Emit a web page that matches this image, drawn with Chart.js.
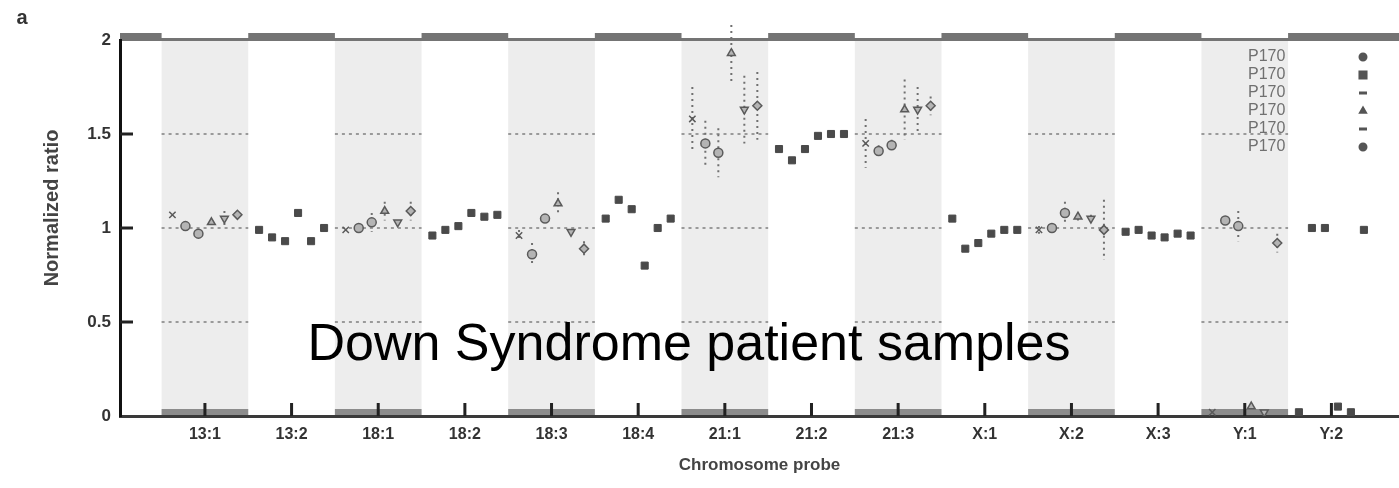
<!DOCTYPE html>
<html>
<head>
<meta charset="utf-8">
<script src="https://cdn.jsdelivr.net/npm/chart.js@4.4.1/dist/chart.umd.min.js"></script>
<style>
  html, body { margin: 0; padding: 0; background: #fff; }
  #wrap { width: 1399px; height: 488px; position: relative; }
</style>
</head>
<body>
<div id="wrap"><canvas id="c" width="1399" height="488"></canvas></div>
<script>
// Chromosome probes along the x axis
const categories = ['13:1', '13:2', '18:1', '18:2', '18:3', '18:4', '21:1', '21:2', '21:3', 'X:1', 'X:2', 'X:3', 'Y:1', 'Y:2'];
// Probes drawn on a grey band, with open markers and dotted error bars
const shadedCategories = ['13:1', '18:1', '18:3', '21:1', '21:3', 'X:2', 'Y:1'];

// Normalized ratio per patient sample, one value per probe
const seriesLabels = ['P170', 'P170', 'P170', 'P170', 'P170', 'P170'];
const p1 = [1.07, 0.99, 0.99, 0.96, 0.96, 1.05, 1.58, 1.42, 1.45, 1.05, 0.99, 0.98, 0.02, 0.02];
const p2 = [1.01, 0.95, 1.00, 0.99, 0.86, 1.15, 1.45, 1.36, 1.41, 0.89, 1.00, 0.99, 1.04, 1.00];
const p3 = [0.97, 0.93, 1.03, 1.01, 1.05, 1.10, 1.40, 1.42, 1.44, 0.92, 1.08, 0.96, 1.01, 1.00];
const p4 = [1.03, 1.08, 1.09, 1.08, 1.13, 0.80, 1.93, 1.49, 1.63, 0.97, 1.06, 0.95, 0.05, 0.05];
const p5 = [1.05, 0.93, 1.03, 1.06, 0.98, 1.00, 1.63, 1.50, 1.63, 0.99, 1.05, 0.97, 0.02, 0.02];
const p6 = [1.07, 1.00, 1.09, 1.07, 0.89, 1.05, 1.65, 1.50, 1.65, 0.99, 0.99, 0.96, 0.92, 0.99];

// Half-width of the error bar per probe (0 = none drawn)
const p1Err = [0.00, 0, 0.00, 0, 0.03, 0, 0.17, 0, 0.13, 0, 0.02, 0, 0.00, 0];
const p2Err = [0.00, 0, 0.00, 0, 0.06, 0, 0.12, 0, 0.03, 0, 0.02, 0, 0.00, 0];
const p3Err = [0.00, 0, 0.05, 0, 0.00, 0, 0.13, 0, 0.03, 0, 0.06, 0, 0.08, 0];
const p4Err = [0.00, 0, 0.05, 0, 0.06, 0, 0.15, 0, 0.16, 0, 0.02, 0, 0.00, 0];
const p5Err = [0.04, 0, 0.00, 0, 0.00, 0, 0.18, 0, 0.12, 0, 0.02, 0, 0.00, 0];
const p6Err = [0.00, 0, 0.05, 0, 0.04, 0, 0.18, 0, 0.05, 0, 0.16, 0, 0.05, 0];

const yTickValues = [0, 0.5, 1, 1.5, 2];
const yTickLabels = ['0', '0.5', '1', '1.5', '2'];
const referenceLevels = [0.5, 1, 1.5];

const series = [p1, p2, p3, p4, p5, p6];
const seriesErr = [p1Err, p2Err, p3Err, p4Err, p5Err, p6Err];
const markerShapes = ['crossRot', 'circle', 'circle', 'triangle', 'triangle', 'rectRot'];
const markerRotation = [0, 0, 0, 0, 180, 0];
const legendShapes = ['circle', 'rect', 'line', 'triangle', 'line', 'circle'];
const SPREAD = 0.15; // horizontal spacing of samples within one probe

const FONT = '"Liberation Sans", Arial, sans-serif';
const isShaded = i => shadedCategories.includes(categories[i]);

const datasets = series.map((vals, s) => ({
  label: seriesLabels[s],
  data: vals.map((v, i) => ({ x: i + (s - 2.5) * SPREAD, y: v })),
  errors: seriesErr[s],
  showLine: false,
  pointStyle: ctx => isShaded(ctx.dataIndex) ? markerShapes[s] : 'rect',
  rotation: ctx => isShaded(ctx.dataIndex) ? markerRotation[s] : 0,
  radius: ctx => isShaded(ctx.dataIndex) ? 4.5 : 5,
  backgroundColor: ctx => isShaded(ctx.dataIndex) ? '#b4b4b4' : '#4a4a4a',
  borderColor: ctx => isShaded(ctx.dataIndex) ? '#5a5a5a' : '#4a4a4a',
  borderWidth: ctx => isShaded(ctx.dataIndex) ? 1.5 : 1
}));

// Grey probe bands, dotted reference levels and the framing bars
const bandsPlugin = {
  id: 'bands',
  beforeDraw(chart) {
    const { ctx, chartArea: a, scales: { x, y } } = chart;
    ctx.save();
    const half = (x.getPixelForValue(1) - x.getPixelForValue(0)) / 2;
    categories.forEach((c, i) => {
      const cx = x.getPixelForValue(i);
      if (isShaded(i)) {
        ctx.fillStyle = '#ededed';
        ctx.fillRect(cx - half, a.top, half * 2, a.bottom - a.top);
        ctx.fillStyle = '#8c8c8c';
        ctx.fillRect(cx - half, a.bottom - 7, half * 2, 7);
        ctx.strokeStyle = '#9a9a9a';
        ctx.lineWidth = 2;
        ctx.setLineDash([3, 4]);
        referenceLevels.forEach(v => {
          const py = y.getPixelForValue(v);
          ctx.beginPath();
          ctx.moveTo(cx - half, py);
          ctx.lineTo(cx + half, py);
          ctx.stroke();
        });
        ctx.setLineDash([]);
      }
    });
    // top frame: thin line, heavier over the unshaded probes and margins
    ctx.fillStyle = '#747474';
    ctx.fillRect(a.left, a.top - 2, a.right - a.left, 3);
    let runStart = a.left;
    categories.forEach((c, i) => {
      const cx = x.getPixelForValue(i);
      if (isShaded(i)) {
        ctx.fillRect(runStart, a.top - 7, cx - half - runStart, 8);
        runStart = cx + half;
      }
    });
    ctx.fillRect(runStart, a.top - 7, a.right - runStart, 8);
    ctx.restore();
  },
  beforeDatasetsDraw(chart) {
    // dotted error bars
    const { ctx, scales: { x, y } } = chart;
    ctx.save();
    ctx.strokeStyle = '#707070';
    ctx.lineWidth = 2;
    ctx.setLineDash([2, 4]);
    chart.data.datasets.forEach(ds => {
      ds.data.forEach((p, i) => {
        const e = ds.errors[i];
        if (!e) return;
        const px = x.getPixelForValue(p.x);
        ctx.beginPath();
        ctx.moveTo(px, y.getPixelForValue(p.y + e));
        ctx.lineTo(px, y.getPixelForValue(p.y - e));
        ctx.stroke();
      });
    });
    ctx.restore();
  },
  afterDatasetsDraw(chart) {
    const { ctx, chartArea: a, scales: { x, y } } = chart;
    ctx.save();
    // probe tick marks standing on the x axis
    ctx.fillStyle = '#222';
    categories.forEach((c, i) => {
      const cx = x.getPixelForValue(i);
      ctx.fillRect(cx - 1.5, a.bottom - 13, 3, 13);
    });
    // inward ticks on the y axis
    referenceLevels.forEach(v => {
      const py = y.getPixelForValue(v);
      ctx.fillRect(a.left, py - 1.5, 13, 3);
    });

    // legend
    chart.data.datasets.forEach((ds, s) => {
      const rowY = 57 + s * 18;
      ctx.fillStyle = '#707070';
      ctx.font = '16px ' + FONT;
      ctx.textAlign = 'left';
      ctx.textBaseline = 'middle';
      ctx.fillText(ds.label, 1248, rowY);
      ctx.fillStyle = '#555';
      ctx.strokeStyle = '#555';
      ctx.lineWidth = 2;
      const shape = legendShapes[s];
      if (shape === 'line') {
        ctx.fillRect(1359, rowY - 1.5, 8, 3);
      } else {
        Chart.helpers.drawPoint(ctx, {
          pointStyle: shape, radius: shape === 'rect' ? 5 : 3.5,
          rotation: 0, borderWidth: 1
        }, 1363, rowY);
        ctx.fill();
      }
    });

    // y axis title
    ctx.translate(52, 208);
    ctx.rotate(-Math.PI / 2);
    ctx.fillStyle = '#444';
    ctx.font = 'bold 20px ' + FONT;
    ctx.textAlign = 'center';
    ctx.textBaseline = 'middle';
    ctx.fillText('Normalized ratio', 0, 0);
    ctx.setTransform(1, 0, 0, 1, 0, 0);

    // panel letter
    ctx.fillStyle = '#333';
    ctx.font = 'bold 20px ' + FONT;
    ctx.textAlign = 'center';
    ctx.fillText('a', 22, 18);

    // caption across the plot
    ctx.fillStyle = '#000';
    ctx.font = '52px ' + FONT;
    ctx.textAlign = 'center';
    ctx.textBaseline = 'alphabetic';
    ctx.fillText('Down Syndrome patient samples', 689, 360);
    ctx.restore();
  }
};

new Chart(document.getElementById('c'), {
  type: 'scatter',
  data: { datasets },
  options: {
    responsive: false,
    animation: false,
    layout: { autoPadding: false, padding: { top: 40, left: 0, right: 0, bottom: 0 } },
    plugins: { legend: { display: false }, tooltip: { enabled: false } },
    scales: {
      x: {
        type: 'linear',
        bounds: 'data',
        min: -0.98,
        max: 13.78,
        afterBuildTicks: s => { s.ticks = categories.map((c, i) => ({ value: i })); },
        afterFit: s => { s.height = 72; s.paddingLeft = 0; s.paddingRight = 0; },
        ticks: {
          callback: v => categories[v] ?? '',
          autoSkip: false, maxRotation: 0,
          padding: 9,
          color: '#333',
          font: { family: FONT, size: 16, weight: 'bold' }
        },
        grid: { display: false, drawTicks: false },
        border: { display: true, color: '#3a3a3a', width: 3 },
        title: {
          display: true,
          text: 'Chromosome probe',
          color: '#444',
          font: { family: FONT, size: 17, weight: 'bold' },
          padding: { top: 0, bottom: 12 }
        }
      },
      y: {
        min: 0,
        max: 2,
        afterBuildTicks: s => { s.ticks = yTickValues.map(v => ({ value: v })); },
        afterFit: s => { s.width = 120; s.paddingTop = 0; s.paddingBottom = 0; },
        ticks: {
          callback: (v, i) => yTickLabels[i],
          padding: 9,
          color: '#333',
          font: { family: FONT, size: 17, weight: 'bold' }
        },
        grid: { display: false, drawTicks: false },
        border: { display: true, color: '#111', width: 3 }
      }
    }
  },
  plugins: [bandsPlugin]
});
</script>
</body>
</html>
